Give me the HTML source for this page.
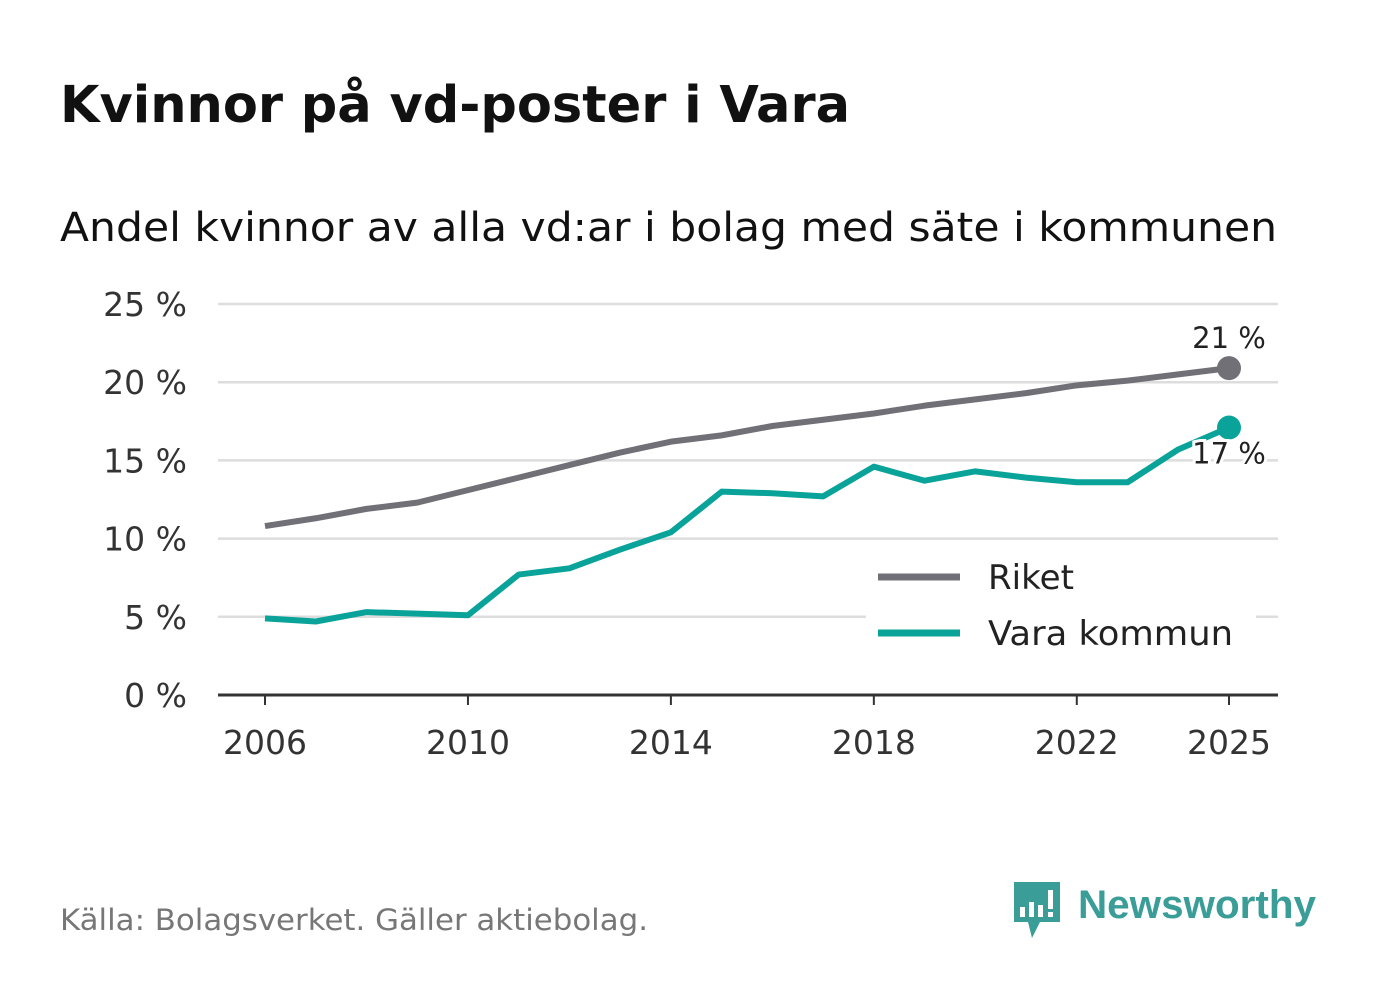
<!DOCTYPE html>
<html><head><meta charset="utf-8"><style>
body{margin:0;width:1382px;height:999px;background:#fff;font-family:"DejaVu Sans","Liberation Sans",sans-serif;overflow:hidden}
</style></head><body>
<svg width="1382" height="999">
<text x="60" y="122" font-size="51" font-weight="bold" fill="#111" textLength="790" lengthAdjust="spacingAndGlyphs">Kvinnor på vd-poster i Vara</text>
<text x="60" y="241" font-size="40" fill="#111" textLength="1217" lengthAdjust="spacingAndGlyphs">Andel kvinnor av alla vd:ar i bolag med säte i kommunen</text>
<g id="grid"></g><g id="lines"></g>
<g>
<rect x="866" y="552" width="390" height="110" fill="#fff"/>
<line x1="878" y1="577" x2="960" y2="577" stroke="#727077" stroke-width="7"/>
<text x="988" y="589" font-size="34" fill="#222" textLength="86" lengthAdjust="spacingAndGlyphs">Riket</text>
<line x1="878" y1="633" x2="960" y2="633" stroke="#0aa39a" stroke-width="7"/>
<text x="988" y="645" font-size="34" fill="#222" textLength="245" lengthAdjust="spacingAndGlyphs">Vara kommun</text>
</g>
<text x="60" y="930" font-size="29" fill="#777" textLength="588" lengthAdjust="spacingAndGlyphs">Källa: Bolagsverket. Gäller aktiebolag.</text>
<g>
<path d="M1014 882h46v40h-20l-8 16l-4-16h-14z" fill="#3a9d98"/>
<rect x="1020" y="907" width="5" height="10" fill="#fff"/><rect x="1029" y="902" width="5" height="15" fill="#fff"/><rect x="1038" y="905" width="5" height="12" fill="#fff"/><rect x="1048" y="890" width="5" height="19" fill="#fff"/><rect x="1048" y="912" width="5" height="5" fill="#fff"/>
<text x="1078" y="918" font-size="40" font-weight="bold" fill="#3a9d98" font-family="Liberation Sans, sans-serif" textLength="238" lengthAdjust="spacingAndGlyphs">Newsworthy</text>
</g>
</svg>
<script>
const years=[2006,2007,2008,2009,2010,2011,2012,2013,2014,2015,2016,2017,2018,2019,2020,2021,2022,2023,2024,2025];
const riket=[10.8,11.3,11.9,12.3,13.1,13.9,14.7,15.5,16.2,16.6,17.2,17.6,18.0,18.5,18.9,19.3,19.8,20.1,20.5,20.9];
const vara=[4.9,4.7,5.3,5.2,5.1,7.7,8.1,9.3,10.4,13.0,12.9,12.7,14.6,13.7,14.3,13.9,13.6,13.6,15.7,17.1];
const yTicks=[0,5,10,15,20,25];
const xTicks=[2006,2010,2014,2018,2022,2025];
const NS="http://www.w3.org/2000/svg";
const X=y=>265+(y-2006)*(1229-265)/19;
const Y=v=>695-v*(695-304)/25;
function mk(t,a,p){const e=document.createElementNS(NS,t);for(const k in a)e.setAttribute(k,a[k]);p.appendChild(e);return e;}
const g=document.getElementById('grid'),L=document.getElementById('lines');
yTicks.forEach(v=>{
 const l=mk('line',{x1:218,x2:1278,y1:Y(v),y2:Y(v),stroke:v?'#ddd':'#333','stroke-width':v?2.5:3},g);
 
 
 const t=mk('text',{x:187,y:Y(v)+12,'font-size':33,fill:'#333','text-anchor':'end'},g);t.textContent=v+' %';
 
 
});
xTicks.forEach(y=>{
 mk('line',{x1:X(y),x2:X(y),y1:695,y2:705,stroke:'#333','stroke-width':2},g);
 const t=mk('text',{x:X(y),y:754,'font-size':33,fill:'#333','text-anchor':'middle'},g);t.textContent=y;
 
 
});
function series(d,c,n){
 const p=mk('polyline',{points:d.map((v,i)=>X(years[i])+','+Y(v)).join(' '),fill:'none',stroke:c,'stroke-width':6,'stroke-linejoin':'round'},L);
 
 
 const last=d.length-1;
 const c2=mk('circle',{cx:X(years[last]),cy:Y(d[last]),r:12,fill:c},L);
 
 
}
series(riket,'#727077','riket');series(vara,'#0aa39a','vara');
const la=mk('text',{x:1229,y:Y(riket[19])-20,'font-size':29,fill:'#222','text-anchor':'middle'},L);la.textContent=Math.round(riket[19])+' %';


const lb=mk('text',{x:1229,y:Y(vara[19])+36,'font-size':29,fill:'#222','text-anchor':'middle',stroke:'#fff','stroke-width':6,'paint-order':'stroke'},L);lb.textContent=Math.round(vara[19])+' %';


</script>
</body></html>
